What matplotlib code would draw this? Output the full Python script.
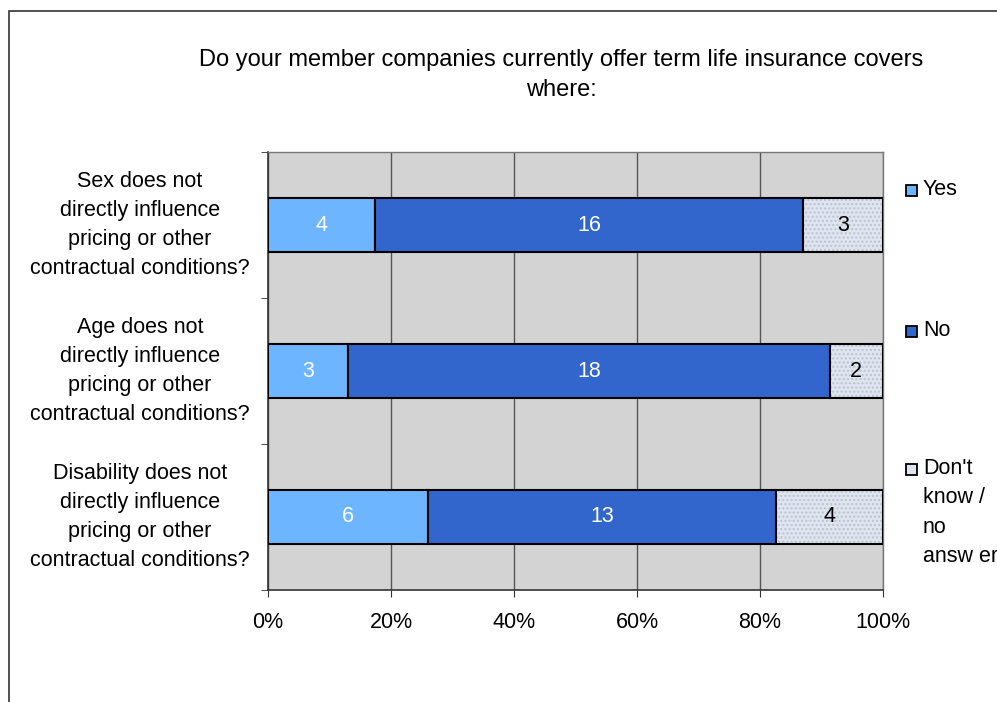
import matplotlib
matplotlib.use("Agg")
import matplotlib.pyplot as plt
from matplotlib.patches import Rectangle
import numpy as np

plt.rcParams['font.family'] = ['Liberation Sans', 'DejaVu Sans']

title = "Do your member companies currently offer term life insurance covers\nwhere:"
categories = [
    "Sex does not\ndirectly influence\npricing or other\ncontractual conditions?",
    "Age does not\ndirectly influence\npricing or other\ncontractual conditions?",
    "Disability does not\ndirectly influence\npricing or other\ncontractual conditions?",
]
series_names = ["Yes", "No", "Don't\nknow /\nno\nansw er"]
yes_counts = [4, 3, 6]
no_counts = [16, 18, 13]
dk_counts = [3, 2, 4]
x_ticks = [0, 20, 40, 60, 80, 100]
x_ticklabels = ["0%", "20%", "40%", "60%", "80%", "100%"]

colors = ["#6db6ff", "#3366cc", "#dfe5ef"]
text_colors = ["white", "white", "black"]

FS = 15.5
LS = 1.52
W, H = 997, 702
fig = plt.figure(figsize=(W / 100, H / 100), dpi=100)

# outer chart border (runs off the right and bottom edges)
fig.patches.append(Rectangle((9 / W, -0.05), 1.2, 1 - 11 / H + 0.05,
                             transform=fig.transFigure, fill=False,
                             edgecolor="#333333", linewidth=1.2))

ax = fig.add_axes([268 / W, 1 - 590 / H, (883 - 268) / W, (590 - 152) / H])
ax.set_facecolor("#d3d3d3")

data = np.array([yes_counts, no_counts, dk_counts], dtype=float)
totals = data.sum(axis=0)
pct = data / totals * 100
ypos = np.arange(len(categories))
bar_h = 0.37

left = np.zeros(len(categories))
for i in range(3):
    if i == 2:
        ax.barh(ypos, pct[i], left=left, height=bar_h, color=colors[i],
                edgecolor="#b8c2d0", hatch="....", linewidth=0, zorder=3)
        ax.barh(ypos, pct[i], left=left, height=bar_h, color="none",
                edgecolor="black", linewidth=1.5, zorder=4)
    else:
        ax.barh(ypos, pct[i], left=left, height=bar_h, color=colors[i],
                edgecolor="black", linewidth=1.5, zorder=3)
    for j in range(len(categories)):
        ax.text(left[j] + pct[i][j] / 2, ypos[j], f"{int(data[i][j])}",
                ha="center", va="center", color=text_colors[i],
                fontsize=FS, zorder=5)
    left += pct[i]

ax.set_xlim(0, 100)
ax.set_ylim(len(categories) - 0.5, -0.5)
ax.set_xticks(x_ticks)
ax.set_xticklabels(x_ticklabels, fontsize=FS)
ax.xaxis.grid(True, color="#555555", linewidth=1.0, zorder=1)
ax.set_axisbelow(True)
ax.tick_params(axis="x", direction="out", length=5, color="#333333", pad=11)

ax.set_yticks(ypos)
ax.set_yticklabels([])
ax.tick_params(axis="y", which="major", length=0)
ax.set_yticks(np.arange(-0.5, len(categories)), minor=True)
ax.tick_params(axis="y", which="minor", direction="out", length=5, color="#333333")

for side in ["left", "bottom"]:
    ax.spines[side].set_color("#333333")
    ax.spines[side].set_linewidth(1.2)
for side in ["top", "right"]:
    ax.spines[side].set_color("#777777")
    ax.spines[side].set_linewidth(1.0)

# category labels, centered blocks left of the plot
fig.canvas.draw()
for j, lab in enumerate(categories):
    yc = ax.transData.transform((0, ypos[j]))[1]
    fig.text(140 / W, yc / H, lab, ha="center", va="center", fontsize=FS,
             linespacing=LS)

fig.text(561 / W, 1 - 75 / H, title, ha="center", va="center", fontsize=17,
         linespacing=1.5)

# legend
legend_y = [190, 331, 469]
for name, col, y in zip(series_names, colors, legend_y):
    fig.patches.append(Rectangle((906 / W, 1 - (y + 6) / H), 11 / W, 11 / H,
                                 transform=fig.transFigure, facecolor=col,
                                 edgecolor="black", linewidth=1.3))
    fig.text(923 / W, 1 - (y - 11) / H, name, ha="left", va="top",
             fontsize=FS, linespacing=LS)

fig.savefig("out.png", dpi=100)
